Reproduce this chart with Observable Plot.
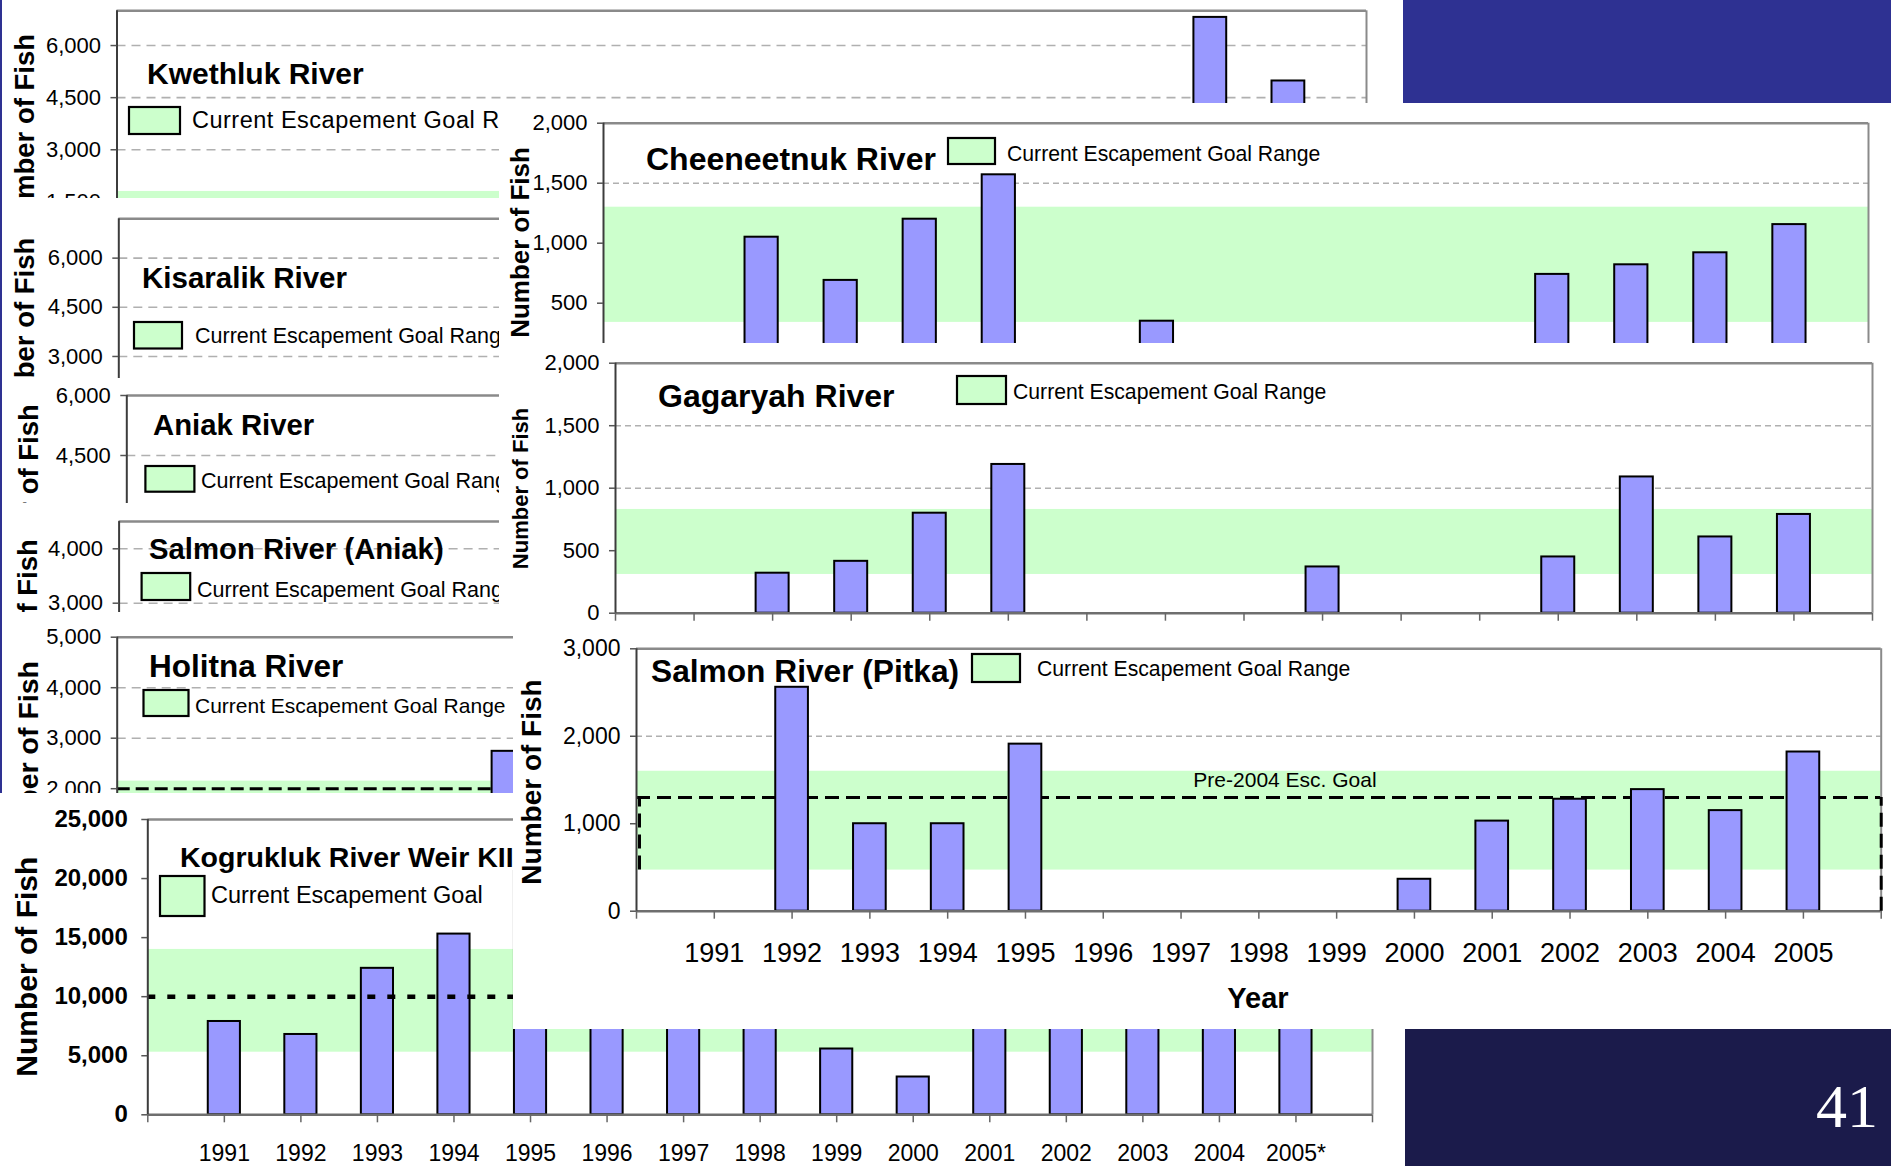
<!DOCTYPE html>
<html><head><meta charset="utf-8">
<script src="https://cdn.jsdelivr.net/npm/d3@7"></script>
<script src="https://cdn.jsdelivr.net/npm/@observablehq/plot@0.6"></script>
<style>
html,body{margin:0;padding:0;background:#fff;}
#page{position:relative;width:1891px;height:1166px;overflow:hidden;background:#fff;}
.panel{position:absolute;overflow:hidden;background:#fff;}
.panel svg{position:absolute;}
</style></head><body><div id="page"></div>
<script>
// ---------------- data ----------------
const tickYears = [1990,1991,1992,1993,1994,1995,1996,1997,1998,1999,2000,2001,2002,2003,2004,2005,2006];
const labelYears = [1991,1992,1993,1994,1995,1996,1997,1998,1999,2000,2001,2002,2003,2004,2005];
const yearLabels = ["1991","1992","1993","1994","1995","1996","1997","1998","1999","2000","2001","2002","2003","2004","2005"];
const kogYearLabels = ["1991","1992","1993","1994","1995","1996","1997","1998","1999","2000","2001","2002","2003","2004","2005*"];

const riverTitles = ["Kwethluk River","Kisaralik River","Aniak River","Salmon River (Aniak)","Holitna River","Kogrukluk River Weir KII","Cheeneetnuk River","Gagaryah River","Salmon River (Pitka)"];
const legendLabel = "Current Escapement Goal Range";
const legendLabelKog = "Current Escapement Goal";
const yLabel = "Number of Fish";
const xLabel = "Year";
const preGoalLabel = "Pre-2004 Esc. Goal";
const slideNumber = "41";

const kwethlukYears = [2004, 2005];
const kwethlukFish = [6810, 4980];
const kwethlukGoal = [1200, 1800];
const kwethlukTicks = [0, 1500, 3000, 4500, 6000];
const kwethlukGrid = [1500, 3000, 4500, 6000];

const kisaralikTicks = [0, 1500, 3000, 4500, 6000];
const kisaralikGrid = [1500, 3000, 4500, 6000];

const aniakTicks = [0, 1500, 3000, 4500, 6000];
const aniakGrid = [1500, 3000, 4500];

const salmonAniakTicks = [0, 1000, 2000, 3000, 4000];
const salmonAniakGrid = [1000, 2000, 3000, 4000];

const holitnaYears = [1995];
const holitnaFish = [2740];
const holitnaGoal = [970, 2150];
const holitnaPreGoal = [2000];
const holitnaTicks = [0, 1000, 2000, 3000, 4000, 5000];
const holitnaGrid = [1000, 3000, 4000];

const kogYears = [1991,1992,1993,1994,1995,1996,1997,1998,1999,2000,2001,2002,2003,2004,2005];
const kogFish = [7900,6800,12400,15300,20600,14500,12700,12100,5570,3200,9300,10100,11800,19700,22100];
const kogGoal = [5300, 14000];
const kogPreGoal = [10000];
const kogTicks = [0, 5000, 10000, 15000, 20000, 25000];

const cheeYears = [1992,1993,1994,1995,1997,2002,2003,2004,2005];
const cheeFish = [1050,690,1200,1570,350,740,820,920,1155];
const cheeGoal = [340, 1300];
const cheeTicks = [0, 500, 1000, 1500, 2000];
const cheeGrid = [500, 1000, 1500];

const gagYears = [1992,1993,1994,1995,1999,2002,2003,2004,2005];
const gagFish = [320,415,800,1190,370,450,1090,610,790];
const gagGoal = [310, 830];
const gagTicks = [0, 500, 1000, 1500, 2000];
const gagGrid = [500, 1000, 1500];

const pitYears = [1992,1993,1994,1995,2000,2001,2002,2003,2004,2005];
const pitFish = [2560,1000,1000,1910,365,1030,1280,1390,1150,1820];
const pitGoal = [470, 1600];
const pitPreGoal = [1300];
const pitTicks = [0, 1000, 2000, 3000];
const pitGrid = [1000, 2000];

// ---------------- styles / helpers ----------------
const W = 1891, H = 1166;
const FONT = '"Liberation Sans", Arial, Helvetica, sans-serif';
const FISH = "#9999ff", GOAL = "#ccffcc";
const XDOM = [1990, 2006];
const page = document.getElementById("page");

function yearFmt(labels) {
  return d => { const i = labelYears.indexOf(d); return i >= 0 ? labels[i] : ""; };
}
function bars(years, values) {
  const data = years.map((y, i) => ({year: y, fish: values[i]}));
  return Plot.rect(data, {x1: d => d.year - 0.21, x2: d => d.year + 0.21, y1: d => 0, y2: "fish",
    fill: FISH, stroke: "#000", strokeWidth: 2});
}
function addBox(div, cls, clip, bg) {
  const d = document.createElement("div");
  d.className = cls;
  d.style.cssText = `position:absolute;left:${clip[0]}px;top:${clip[1]}px;width:${clip[2]}px;height:${clip[3]}px;overflow:hidden;background:${bg};`;
  div.appendChild(d);
  return d;
}
function addText(svg, t) {
  const s = d3.select(svg).append("text").attr("x", t.x).attr("y", t.y).text(t.text)
    .attr("font-size", t.size).attr("font-weight", t.bold ? "bold" : "normal")
    .attr("text-anchor", t.anchor || "start").attr("fill", t.fill || "#000")
    .attr("font-family", t.family || FONT).attr("stroke", "none");
  if (t.rotate) s.attr("transform", `rotate(-90 ${t.x} ${t.y})`).attr("text-anchor", "middle").attr("dy", "0.35em");
  if (t.ls) s.attr("letter-spacing", t.ls);
}
function addLegend(svg, l) {
  d3.select(svg).append("rect").attr("x", l.x).attr("y", l.y).attr("width", l.w).attr("height", l.h)
    .attr("fill", GOAL).attr("stroke", "#000").attr("stroke-width", 2.2);
}

function makePanel(o) {
  const [L, T, Wd, Hd] = o.clip;
  const div = addBox(page, "panel", o.clip, "#fff");
  const marks = [];
  if (o.grid) marks.push(Plot.ruleY(o.grid, {stroke: "#b0b0b0", strokeWidth: 1.6, strokeDasharray: o.dash || "9 6"}));
  if (o.goal) marks.push(Plot.rect([o.goal], {x1: () => XDOM[0], x2: () => XDOM[1], y1: d => d[0], y2: d => d[1], fill: GOAL}));
  if (o.under) marks.push(...o.under);
  if (o.years) marks.push(bars(o.years, o.fish));
  if (o.over) marks.push(...o.over);
  marks.push(
    Plot.ruleY([o.yMax], {stroke: "#8a8a8a", strokeWidth: 2.5}),
    Plot.ruleX([XDOM[1]], {stroke: "#8a8a8a", strokeWidth: 2}),
    Plot.ruleY([0], {stroke: "#6e6e6e", strokeWidth: 2.5}),
    Plot.ruleX([XDOM[0]], {stroke: "#3c3c3c", strokeWidth: 2}),
    Plot.axisY({ticks: o.yTicks, tickSize: 6, tickPadding: o.yPad || 10, tickFormat: d3.format(","),
      fontSize: o.yFont, fontWeight: o.yBold ? "bold" : "normal", label: null, stroke: "#555", strokeWidth: 1.5})
  );
  if (o.xAxis) marks.push(Plot.axisX({ticks: tickYears, tickSize: 8, tickPadding: o.xAxis.pad, tickFormat: o.xAxis.format,
      fontSize: o.xAxis.font, label: null, stroke: "#666", strokeWidth: 1.5}));
  if (o.top) marks.push(...o.top);
  const svg = Plot.plot({
    width: W, height: H,
    marginLeft: o.x0, marginRight: W - o.x1, marginTop: o.yTopPx, marginBottom: H - o.yZeroPx,
    x: {type: "linear", domain: XDOM, axis: null},
    y: {type: "linear", domain: [0, o.yMax], axis: null},
    style: {fontFamily: FONT, background: "transparent", overflow: "visible", color: "#000", maxWidth: "none"},
    marks
  });
  svg.style.position = "absolute";
  svg.style.left = (-L) + "px";
  svg.style.top = (-T) + "px";
  svg.style.width = W + "px";
  svg.style.height = H + "px";
  div.appendChild(svg);
  (o.texts || []).forEach(t => addText(svg, t));
  if (o.legend) addLegend(svg, o.legend);
  return svg;
}

// ---------------- panels (bottom to top) ----------------
makePanel({clip: [0, 0, 1403, 198], x0: 116.5, x1: 1366, yTopPx: 10.3, yZeroPx: 253.5, yMax: 7000,
  grid: kwethlukGrid, goal: kwethlukGoal, years: kwethlukYears, fish: kwethlukFish, yTicks: kwethlukTicks, yFont: 22,
  texts: [
    {x: 147, y: 84, text: riverTitles[0], size: 30, bold: true},
    {x: 192, y: 128, text: legendLabel, size: 23.5, ls: 0.5},
    {x: 24, y: 134.8, text: yLabel, size: 27.5, bold: true, rotate: true}],
  legend: {x: 129, y: 107, w: 51, h: 27}});

addBox(page, "blk", [1403, 0, 488, 103], "#2e3192");

makePanel({clip: [0, 198, 499, 180], x0: 118.3, x1: 1366, yTopPx: 218.3, yZeroPx: 454.3, yMax: 7200,
  grid: kisaralikGrid, yTicks: kisaralikTicks, yFont: 22,
  texts: [
    {x: 142, y: 288, text: riverTitles[1], size: 29.5, bold: true},
    {x: 195, y: 343, text: legendLabel, size: 21.5},
    {x: 24, y: 338.5, text: yLabel, size: 27.5, bold: true, rotate: true}],
  legend: {x: 134, y: 322, w: 48, h: 26.5}});

makePanel({clip: [499, 103, 1392, 240], x0: 603, x1: 1868, yTopPx: 122.7, yZeroPx: 362.7, yMax: 2000,
  grid: cheeGrid, goal: cheeGoal, years: cheeYears, fish: cheeFish, yTicks: cheeTicks, yFont: 22, dash: "6 4",
  texts: [
    {x: 646, y: 170, text: riverTitles[6], size: 32, bold: true},
    {x: 1007, y: 161, text: legendLabel, size: 21.2},
    {x: 520, y: 242.5, text: yLabel, size: 26, bold: true, rotate: true}],
  legend: {x: 948, y: 138, w: 47, h: 26}});

makePanel({clip: [0, 378, 499, 125], x0: 126.3, x1: 1366, yTopPx: 395, yZeroPx: 635, yMax: 6000,
  grid: aniakGrid, yTicks: aniakTicks, yFont: 22,
  texts: [
    {x: 153, y: 435, text: riverTitles[2], size: 29.3, bold: true},
    {x: 201, y: 488, text: legendLabel, size: 21.5},
    {x: 28, y: 505, text: yLabel, size: 27.5, bold: true, rotate: true}],
  legend: {x: 145.4, y: 466, w: 49, h: 25.7}});

makePanel({clip: [0, 503, 499, 109], x0: 118.6, x1: 1366, yTopPx: 521.1, yZeroPx: 765.9, yMax: 4500,
  grid: salmonAniakGrid, yTicks: salmonAniakTicks, yFont: 22,
  texts: [
    {x: 149, y: 559, text: riverTitles[3], size: 29.3, bold: true},
    {x: 197, y: 597, text: legendLabel, size: 21.5},
    {x: 27, y: 640, text: yLabel, size: 27.5, bold: true, rotate: true}],
  legend: {x: 141.6, y: 573, w: 48.6, h: 27}});

makePanel({clip: [499, 343, 1392, 287], x0: 615, x1: 1872, yTopPx: 362.7, yZeroPx: 612.7, yMax: 2000,
  grid: gagGrid, goal: gagGoal, years: gagYears, fish: gagFish, yTicks: gagTicks, yFont: 22, dash: "6 4",
  xAxis: {pad: 3, format: () => "", font: 20},
  texts: [
    {x: 658, y: 407, text: riverTitles[7], size: 32, bold: true},
    {x: 1013, y: 399, text: legendLabel, size: 21.2},
    {x: 520, y: 488.5, text: yLabel, size: 22, bold: true, rotate: true}],
  legend: {x: 957, y: 376, w: 49, h: 28}});

makePanel({clip: [0, 612, 513, 181], x0: 116.7, x1: 1369, yTopPx: 636.7, yZeroPx: 889.2, yMax: 5000,
  grid: holitnaGrid, goal: holitnaGoal, years: holitnaYears, fish: holitnaFish, yTicks: holitnaTicks, yFont: 22,
  under: [Plot.ruleY(holitnaPreGoal, {stroke: "#000", strokeWidth: 3, strokeDasharray: "13 6"})],
  texts: [
    {x: 149, y: 677, text: riverTitles[4], size: 31.5, bold: true},
    {x: 195, y: 713, text: legendLabel, size: 21},
    {x: 28, y: 765.5, text: yLabel, size: 28.5, bold: true, rotate: true}],
  legend: {x: 143.5, y: 690, w: 45, h: 26}});

makePanel({clip: [0, 793, 1405, 373], x0: 147.3, x1: 1372, yTopPx: 819, yZeroPx: 1114.3, yMax: 25000,
  goal: kogGoal, years: kogYears, fish: kogFish, yTicks: kogTicks, yFont: 24, yBold: true, yPad: 14,
  over: [Plot.ruleY(kogPreGoal, {stroke: "#000", strokeWidth: 4.5, strokeDasharray: "8 12"})],
  xAxis: {pad: 22, format: yearFmt(kogYearLabels), font: 23},
  texts: [
    {x: 180, y: 867, text: riverTitles[5], size: 28.5, bold: true},
    {x: 211, y: 903, text: legendLabelKog, size: 23.5},
    {x: 27, y: 966.7, text: yLabel, size: 30, bold: true, rotate: true}],
  legend: {x: 160, y: 876, w: 44.5, h: 40}});

makePanel({clip: [513, 630, 1378, 399], x0: 636, x1: 1880.7, yTopPx: 648.3, yZeroPx: 910.7, yMax: 3000,
  grid: pitGrid, goal: pitGoal, years: pitYears, fish: pitFish, yTicks: pitTicks, yFont: 23, dash: "6 4",
  under: [Plot.ruleY(pitPreGoal, {stroke: "#000", strokeWidth: 3, strokeDasharray: "14 7"})],
  top: [
    Plot.ruleX([XDOM[0]], {y1: () => pitGoal[0], y2: () => pitPreGoal[0], dx: 3, stroke: "#000", strokeWidth: 3, strokeDasharray: "14 7"}),
    Plot.ruleX([XDOM[1]], {y1: () => 0, y2: () => pitPreGoal[0], stroke: "#000", strokeWidth: 3, strokeDasharray: "14 7"})],
  xAxis: {pad: 24, format: yearFmt(yearLabels), font: 27},
  texts: [
    {x: 651, y: 682, text: riverTitles[8], size: 31.7, bold: true},
    {x: 1037, y: 676, text: legendLabel, size: 21.2},
    {x: 531, y: 782, text: yLabel, size: 28, bold: true, rotate: true},
    {x: 1258, y: 1008, text: xLabel, size: 29, bold: true, anchor: "middle"},
    {x: 1285, y: 787, text: preGoalLabel, size: 21, anchor: "middle"}],
  legend: {x: 972, y: 654, w: 48, h: 28}});

const navy = addBox(page, "blk", [1405, 1029, 486, 137], "#1b1b4b");
const num = document.createElement("div");
num.textContent = slideNumber;
num.style.cssText = 'position:absolute;right:13px;top:46px;font-family:"Liberation Serif","Times New Roman",serif;font-size:62px;line-height:62px;color:#fff;';
navy.appendChild(num);
addBox(page, "blk", [0, 0, 2, 793], "#2e3192");
</script>
</body></html>
